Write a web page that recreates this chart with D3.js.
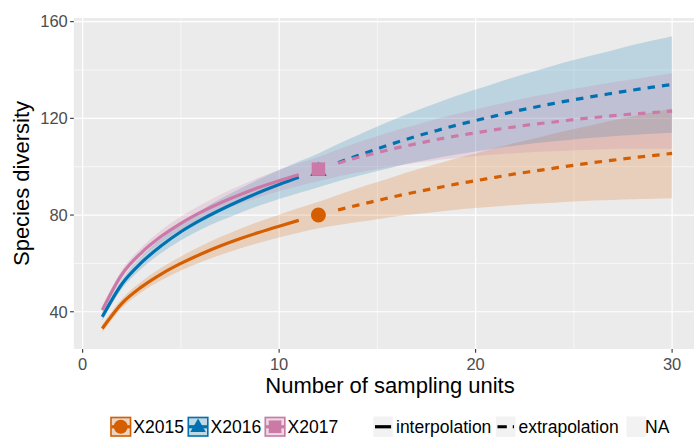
<!DOCTYPE html>
<html>
<head>
<meta charset="utf-8">
<title>Species diversity rarefaction / extrapolation</title>
<script src="https://cdnjs.cloudflare.com/ajax/libs/d3/7.8.5/d3.min.js"></script>
<style>
    body { margin: 0; background: #fff; }
    text { font-family: "Liberation Sans", Arial, Helvetica, sans-serif; }
</style>
</head>
<body>
<svg id="chart" width="694" height="437"></svg>

<script>
// ---- data ----
let units = [1,2,3,4,5,6,7,8,9,10,11,12,13,14,15,16,17,18,19,20,21,22,23,24,25,26,27,28,29,30];
let observedAt = 12; // reference sample size (the point); below it interpolation, above extrapolation

let sites = ["X2015", "X2016", "X2017"];

let est2015 = [33.1,43.5,50.3,55.6,60.0,63.8,67.2,70.2,72.9,75.4,77.8,80.0,82.1,84.1,86.0,87.9,89.6,91.2,92.8,94.2,95.6,97.0,98.2,99.4,100.6,101.7,102.7,103.7,104.6,105.5];
let lcl2015 = [31.6,41.6,48.1,53.0,57.1,60.5,63.5,66.2,68.5,70.7,72.7,74.5,75.9,77.1,78.3,79.5,80.4,81.3,82.2,82.9,83.5,84.2,84.7,85.1,85.6,86.0,86.2,86.5,86.7,86.9];
let ucl2015 = [34.6,45.4,52.5,58.2,62.9,67.1,70.9,74.2,77.3,80.1,82.9,85.5,88.3,91.1,93.7,96.3,98.8,101.1,103.4,105.5,107.7,109.8,111.7,113.7,115.6,117.4,119.2,120.9,122.5,124.1];

let est2016 = [37.9,51.5,60.4,67.3,73.1,77.9,82.1,85.9,89.4,92.6,95.6,98.5,101.7,104.6,107.4,110.1,112.6,114.9,117.1,119.1,121.0,122.9,124.6,126.2,127.7,129.1,130.4,131.7,132.9,134.0];
let lcl2016 = [36.4,49.5,57.9,64.3,69.6,73.9,77.6,80.9,83.9,86.6,89.1,91.5,94.0,96.2,98.2,100.2,102.0,103.6,105.0,106.3,107.5,108.7,109.7,110.5,111.3,112.0,112.6,113.1,113.6,114.0];
let ucl2016 = [39.4,53.5,62.9,70.3,76.6,81.9,86.6,90.9,94.9,98.6,102.1,105.5,109.4,113.0,116.6,120.0,123.2,126.2,129.2,131.9,134.5,137.1,139.5,141.9,144.1,146.2,148.2,150.3,152.2,154.0];

let est2017 = [40.7,55.5,64.5,71.2,76.6,81.1,85.0,88.4,91.5,94.2,96.7,99.0,101.5,103.8,105.8,107.8,109.5,111.2,112.7,114.0,115.3,116.5,117.6,118.5,119.5,120.3,121.1,121.8,122.4,123.0];
let lcl2017 = [39.2,53.7,62.4,68.7,73.8,78.0,81.6,84.7,87.4,89.8,92.0,94.0,95.9,97.6,99.0,100.4,101.6,102.7,103.6,104.3,105.0,105.6,106.1,106.4,106.8,107.0,107.3,107.4,107.4,107.4];
let ucl2017 = [42.2,57.3,66.6,73.7,79.4,84.2,88.4,92.1,95.6,98.6,101.4,104.0,107.1,110.0,112.6,115.2,117.4,119.7,121.8,123.7,125.6,127.4,129.1,130.6,132.2,133.6,134.9,136.2,137.4,138.6];

let xTicks = [0, 10, 20, 30];
let yTicks = [40, 80, 120, 160];
let xMinor = [5, 15, 25];
let yMinor = [60, 100, 140];

let lineTypes = ["interpolation", "extrapolation", "NA"];

// ---- look ----
let colors = { X2015: "#D55E00", X2016: "#0072B2", X2017: "#CC79A7" };
let shapes = { X2015: "circle", X2016: "triangle", X2017: "square" };

let series = [
    { site: "X2015", est: est2015, lcl: lcl2015, ucl: ucl2015 },
    { site: "X2016", est: est2016, lcl: lcl2016, ucl: ucl2016 },
    { site: "X2017", est: est2017, lcl: lcl2017, ucl: ucl2017 }
];

let svg = d3.select("#chart");

let panel = { left: 73.8, right: 700.6, top: 18, bottom: 349 };

// ggplot style 5% expansion of the data range
let x = d3.scaleLinear().domain([-0.45, 31.45]).range([panel.left, panel.right]);
let y = d3.scaleLinear().domain([24.6, 161.5]).range([panel.bottom, panel.top]);

// panel background + grid
svg.append("rect")
    .attr("x", panel.left).attr("y", panel.top)
    .attr("width", panel.right - panel.left).attr("height", panel.bottom - panel.top)
    .attr("fill", "#EBEBEB");

let grid = svg.append("g");
xMinor.forEach(v => grid.append("line")
    .attr("x1", x(v)).attr("x2", x(v)).attr("y1", panel.top).attr("y2", panel.bottom)
    .attr("stroke", "#fff").attr("stroke-width", 0.6));
yMinor.forEach(v => grid.append("line")
    .attr("x1", panel.left).attr("x2", panel.right).attr("y1", y(v)).attr("y2", y(v))
    .attr("stroke", "#fff").attr("stroke-width", 0.6));
xTicks.forEach(v => grid.append("line")
    .attr("x1", x(v)).attr("x2", x(v)).attr("y1", panel.top).attr("y2", panel.bottom)
    .attr("stroke", "#fff").attr("stroke-width", 1.2));
yTicks.forEach(v => grid.append("line")
    .attr("x1", panel.left).attr("x2", panel.right).attr("y1", y(v)).attr("y2", y(v))
    .attr("stroke", "#fff").attr("stroke-width", 1.2));

// confidence ribbons
let area = d3.area()
    .x((d, i) => x(units[i]))
    .y0(d => y(d[0]))
    .y1(d => y(d[1]))
    .curve(d3.curveMonotoneX);

series.forEach(s => {
    let band = s.lcl.map((v, i) => [v, s.ucl[i]]);
    svg.append("path")
        .attr("d", area(band))
        .attr("fill", colors[s.site])
        .attr("fill-opacity", 0.2);
});

// curves
let line = d3.line().x(d => x(d.t)).y(d => y(d.v)).curve(d3.curveMonotoneX);

series.forEach(s => {
    let pts = units.map((t, i) => ({ t: t, v: s.est[i] }));
    let interp = pts.filter(d => d.t < observedAt);
    let extrap = pts.filter(d => d.t > observedAt);

    svg.append("path")
        .attr("d", line(interp))
        .attr("fill", "none")
        .attr("stroke", colors[s.site])
        .attr("stroke-width", 3.2);

    svg.append("path")
        .attr("d", line(extrap))
        .attr("fill", "none")
        .attr("stroke", colors[s.site])
        .attr("stroke-width", 3.2)
        .attr("stroke-dasharray", "7.5,7");
});

// observed points
function drawShape(g, shape, cx, cy, size, color) {
    if (shape === "circle") {
        g.append("circle").attr("cx", cx).attr("cy", cy).attr("r", size / 2).attr("fill", color);
    } else if (shape === "square") {
        g.append("rect").attr("x", cx - size * 0.45).attr("y", cy - size * 0.45)
            .attr("width", size * 0.9).attr("height", size * 0.9).attr("fill", color);
    } else {
        let h = size * 0.95;
        g.append("path")
            .attr("d", `M${cx},${cy - h * 0.62} L${cx + h * 0.58},${cy + h * 0.4} L${cx - h * 0.58},${cy + h * 0.4} Z`)
            .attr("fill", color);
    }
}

let pointLayer = svg.append("g");
series.forEach(s => {
    let i = units.indexOf(observedAt);
    drawShape(pointLayer, shapes[s.site], x(observedAt), y(s.est[i]), 15, colors[s.site]);
});

// axes
let axisColor = "#4D4D4D";
let xAxis = svg.append("g");
xTicks.forEach(v => {
    xAxis.append("line")
        .attr("x1", x(v)).attr("x2", x(v)).attr("y1", panel.bottom).attr("y2", panel.bottom + 3.7)
        .attr("stroke", "#333").attr("stroke-width", 1.1);
    xAxis.append("text")
        .attr("x", x(v)).attr("y", 369.5)
        .attr("text-anchor", "middle")
        .attr("font-size", 16.5)
        .attr("fill", axisColor)
        .text(v);
});

let yAxis = svg.append("g");
yTicks.forEach(v => {
    yAxis.append("line")
        .attr("x1", panel.left - 3.7).attr("x2", panel.left).attr("y1", y(v)).attr("y2", y(v))
        .attr("stroke", "#333").attr("stroke-width", 1.1);
    yAxis.append("text")
        .attr("x", panel.left - 6).attr("y", y(v))
        .attr("dy", "0.35em")
        .attr("text-anchor", "end")
        .attr("font-size", 16.5)
        .attr("fill", axisColor)
        .text(v);
});

svg.append("text")
    .attr("x", 390).attr("y", 392.5)
    .attr("text-anchor", "middle")
    .attr("font-size", 22)
    .attr("fill", "#000")
    .text("Number of sampling units");

svg.append("text")
    .attr("transform", `translate(28.5,${(panel.top + panel.bottom) / 2}) rotate(-90)`)
    .attr("text-anchor", "middle")
    .attr("font-size", 22)
    .attr("fill", "#000")
    .text("Species diversity");

// legend: sites
let legend = svg.append("g");
let keyTop = 416.5, keyH = 20.5;
let siteKeyX = [110, 187.3, 264.3];
sites.forEach((site, i) => {
    let kx = siteKeyX[i], kw = 21.5;
    let g = legend.append("g");
    g.append("rect").attr("x", kx).attr("y", keyTop).attr("width", kw).attr("height", keyH)
        .attr("fill", "#F2F2F2");
    g.append("rect").attr("x", kx + 1).attr("y", keyTop + 1).attr("width", kw - 2).attr("height", keyH - 2)
        .attr("fill", colors[site]).attr("fill-opacity", 0.2)
        .attr("stroke", colors[site]).attr("stroke-width", 1.6);
    g.append("line").attr("x1", kx + 1.5).attr("x2", kx + kw - 1.5)
        .attr("y1", keyTop + keyH / 2).attr("y2", keyTop + keyH / 2)
        .attr("stroke", colors[site]).attr("stroke-width", 3.2);
    drawShape(g, shapes[site], kx + kw / 2, keyTop + keyH / 2, 14, colors[site]);
    g.append("text")
        .attr("x", kx + kw + 1.8).attr("y", 433.3)
        .attr("font-size", 17.5)
        .attr("fill", "#000")
        .text(site);
});

// legend: line types
let typeKeyX = [373.3, 496, 626.5];
let typeTextX = [396, 518.5, 645];
lineTypes.forEach((lt, i) => {
    let kx = typeKeyX[i], kw = 19.5;
    legend.append("rect").attr("x", kx).attr("y", keyTop).attr("width", kw).attr("height", keyH)
        .attr("fill", "#F2F2F2");
    if (lt === "interpolation") {
        legend.append("line").attr("x1", kx + 1.7).attr("x2", kx + kw - 1.7)
            .attr("y1", keyTop + keyH / 2).attr("y2", keyTop + keyH / 2)
            .attr("stroke", "#000").attr("stroke-width", 3.2);
    } else if (lt === "extrapolation") {
        legend.append("line").attr("x1", kx + 1.5).attr("x2", kx + kw - 1.5)
            .attr("y1", keyTop + keyH / 2).attr("y2", keyTop + keyH / 2)
            .attr("stroke", "#000").attr("stroke-width", 3.2)
            .attr("stroke-dasharray", "9.3,6");
    }
    legend.append("text")
        .attr("x", typeTextX[i]).attr("y", 433.3)
        .attr("font-size", 17.5)
        .attr("fill", "#000")
        .text(lt);
});
</script>
</body>
</html>
